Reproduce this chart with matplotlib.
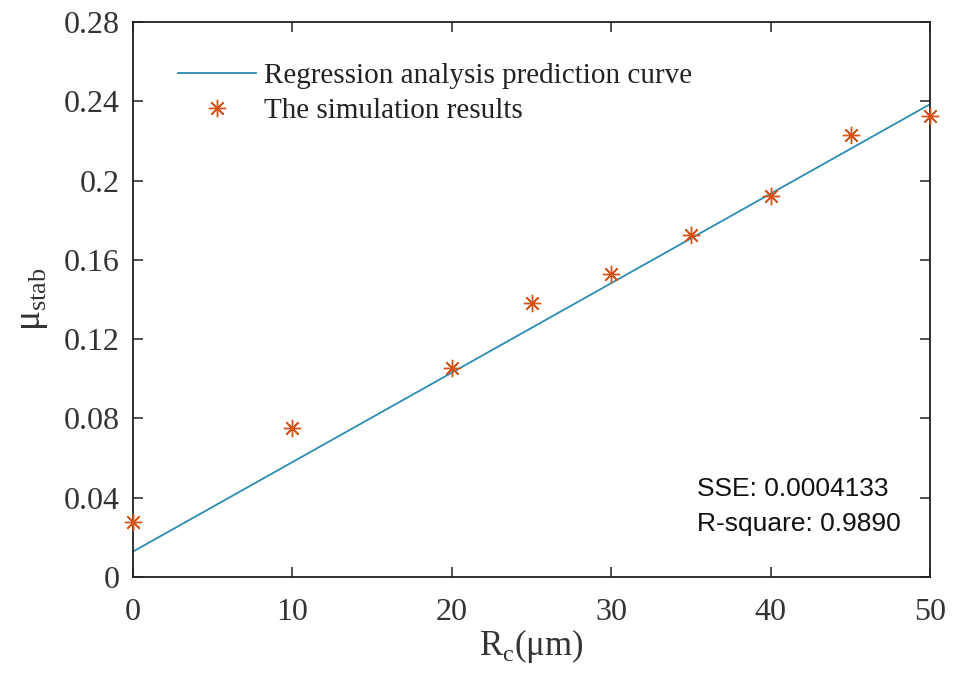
import numpy as np
import matplotlib
matplotlib.use("Agg")
import matplotlib.pyplot as plt

# Simulated stability coefficient versus cutting edge radius
rc_um = [0, 10, 20, 25, 30, 35, 40, 45, 50]
mu_stab = [0.0275, 0.0752, 0.1053, 0.1380, 0.1527, 0.1725, 0.1920, 0.2228, 0.2325]

# Regression prediction curve (linear): mu = intercept + slope * Rc
fit_intercept = 0.0128
fit_slope = 0.004516
fit_sse = "0.0004133"
fit_rsquare = "0.9890"

xticks = [0, 10, 20, 30, 40, 50]
yticks = [0, 0.04, 0.08, 0.12, 0.16, 0.2, 0.24, 0.28]
ytick_labels = ["0", "0.04", "0.08", "0.12", "0.16", "0.2", "0.24", "0.28"]

serif = "Liberation Serif"
sans = "Liberation Sans"
plt.rcParams["mathtext.fontset"] = "custom"
plt.rcParams["mathtext.rm"] = serif

fig = plt.figure(figsize=(9.6, 6.8), dpi=100)
ax = fig.add_axes([0.1385, 0.1515, 0.8305, 0.8161])

xs = np.linspace(0, 50, 200)
ax.plot(xs, fit_intercept + fit_slope * xs, color="#2a8cb4", lw=1.3,
        label="Regression analysis prediction curve", zorder=2)
ax.plot(rc_um, mu_stab, linestyle="none", marker=(8, 2, 0), markersize=12.5,
        markeredgewidth=1.0, color="#d95319",
        label="The simulation results", zorder=3, clip_on=False)

ax.set_xlim(0, 50)
ax.set_ylim(0, 0.28)
ax.set_xticks(xticks)
ax.set_xticklabels([str(v) for v in xticks])
ax.set_yticks(yticks)
ax.set_yticklabels(ytick_labels)

for lab in ax.get_xticklabels() + ax.get_yticklabels():
    lab.set_fontfamily(serif)
    lab.set_fontsize(23)
    lab.set_color("#333333")

ax.tick_params(direction="in", length=7, width=1.1, top=True, right=True,
               color="#222222")
ax.tick_params(axis="x", pad=15)
ax.tick_params(axis="y", pad=9.5)
for sp in ax.spines.values():
    sp.set_linewidth(1.3)
    sp.set_color("#222222")

ax.set_xlabel(r"R$_\mathregular{c}$(μm)", fontfamily=serif, fontsize=25,
              color="#333333", labelpad=0)
ax.set_ylabel(r"μ$_\mathregular{stab}$", fontfamily=serif, fontsize=27,
              color="#333333", labelpad=10)

leg = ax.legend(loc="upper left", bbox_to_anchor=(0.024, 0.974), frameon=False,
                prop={"family": serif, "size": 21}, handlelength=2.67,
                handletextpad=0.27, labelspacing=0.3)
for t in leg.get_texts():
    t.set_color("#222222")

ax.text(0.7077, 0.127, f"SSE: {fit_sse}\nR-square: {fit_rsquare}",
        transform=ax.transAxes, fontfamily=sans, fontsize=19,
        color="#111111", va="center", ha="left", linespacing=1.6)

fig.savefig("out.png", dpi=100)
